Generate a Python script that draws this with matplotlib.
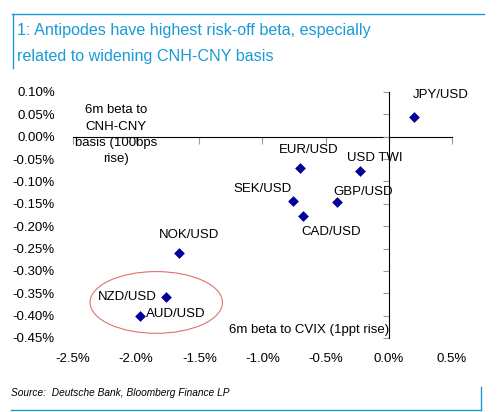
import matplotlib
matplotlib.use("Agg")
import matplotlib.pyplot as plt
from matplotlib.patches import Ellipse
from matplotlib.lines import Line2D
from matplotlib.ticker import FuncFormatter, MultipleLocator

plt.rcParams['font.family'] = ['Liberation Sans', 'DejaVu Sans']

labels = ["JPY/USD", "EUR/USD", "USD TWI", "SEK/USD", "GBP/USD", "CAD/USD", "NOK/USD", "NZD/USD", "AUD/USD"]
cvix_beta = [0.20, -0.70, -0.23, -0.76, -0.41, -0.68, -1.66, -1.76, -1.97]
basis_beta = [0.045, -0.071, -0.076, -0.144, -0.147, -0.178, -0.261, -0.359, -0.401]

# label offsets in pixels and alignment
offsets = {
    "JPY/USD": (-1, 22, 'left'),
    "EUR/USD": (8, 18, 'center'),
    "USD TWI": (15, 13, 'center'),
    "SEK/USD": (-1, 12, 'right'),
    "GBP/USD": (-4, 10, 'left'),
    "CAD/USD": (-2, -16, 'left'),
    "NOK/USD": (10, 18, 'center'),
    "NZD/USD": (-10, 0, 'right'),
    "AUD/USD": (6, 2, 'left'),
}

W, H = 503, 412
fig = plt.figure(figsize=(W / 100, H / 100), dpi=100)
ax = fig.add_axes([73 / W, 1 - 338 / H, (452 - 73) / W, (338 - 92) / H])

xmin, xmax = -2.5, 0.5
ymin, ymax = -0.45, 0.10
ax.set_xlim(xmin, xmax)
ax.set_ylim(ymin, ymax)

for s in ax.spines.values():
    s.set_visible(False)
ax.xaxis.set_major_locator(MultipleLocator(0.5))
ax.yaxis.set_major_locator(MultipleLocator(0.05))
ax.xaxis.set_major_formatter(FuncFormatter(lambda v, p: f"{v:.1f}%"))
ax.yaxis.set_major_formatter(FuncFormatter(lambda v, p: f"{v:.2f}%"))
ax.tick_params(axis='both', length=0, labelsize=9.5, colors='black')
ax.tick_params(axis='x', pad=11)
ax.tick_params(axis='y', pad=13)

# zero axes (crossing) with tick marks only
axis_col = '#9a9a9a'
sx = ax.secondary_xaxis((0 - ymin) / (ymax - ymin))
sx.xaxis.set_major_locator(MultipleLocator(0.5))
sx.xaxis.set_ticks_position('bottom')
sx.tick_params(axis='x', direction='out', length=5, width=0.8, color=axis_col,
               labelbottom=False, labeltop=False)
sx.spines['bottom'].set_color(axis_col)
sx.spines['bottom'].set_linewidth(0.9)

sy = ax.secondary_yaxis((0 - xmin) / (xmax - xmin))
sy.yaxis.set_major_locator(MultipleLocator(0.05))
sy.yaxis.set_ticks_position('left')
sy.tick_params(axis='y', direction='out', length=4, width=0.8, color=axis_col,
               labelleft=False, labelright=False)
sy.spines['left'].set_color(axis_col)
sy.spines['left'].set_linewidth(0.9)

ax.scatter(cvix_beta, basis_beta, marker='D', s=30, color='#000099', zorder=5, linewidths=0)

for lab, x, y in zip(labels, cvix_beta, basis_beta):
    dx, dy, ha = offsets[lab]
    ax.annotate(lab, (x, y), xytext=(dx, dy), textcoords='offset pixels',
                ha=ha, va='center', fontsize=9.5, color='black')

ax.add_patch(Ellipse((-1.841, -0.3705), 1.048, 0.138, fill=False,
                     edgecolor='#e07070', linewidth=0.8, zorder=4))

ax.text(-2.159, 0.0045, "6m beta to\nCNH-CNY\nbasis (100bps\nrise)", ha='center', va='center',
        fontsize=9.5, linespacing=1.48)
ax.text(0.0, -0.431, "6m beta to CVIX (1ppt rise)", ha='right', va='center', fontsize=9.5)

title_col = '#1a9ad6'
fig.text(17 / W, 1 - 31 / H, "1: Antipodes have highest risk-off beta, especially",
         fontsize=11.6, color=title_col, ha='left', va='center')
fig.text(17 / W, 1 - 57 / H, "related to widening CNH-CNY basis",
         fontsize=11.6, color=title_col, ha='left', va='center')

fig.text(11 / W, 1 - 393 / H, "Source:  Deutsche Bank, Bloomberg Finance LP",
         fontsize=7.3, style='italic', ha='left', va='center', color='black')

frame_col = '#1a9ad6'
fig.add_artist(Line2D([12 / W, 484 / W], [1 - 13.5 / H, 1 - 13.5 / H], color=frame_col, lw=1.0))
fig.add_artist(Line2D([12.7 / W, 12.7 / W], [1 - 13.5 / H, 1 - 68 / H], color=frame_col, lw=1.0))
fig.add_artist(Line2D([11 / W, 481 / W], [1 - 410 / H, 1 - 410 / H], color=frame_col, lw=1.0))
fig.add_artist(Line2D([481 / W, 481 / W], [1 - 387 / H, 1 - 410 / H], color=frame_col, lw=1.0))

fig.savefig("out.png", dpi=100, facecolor='white')
